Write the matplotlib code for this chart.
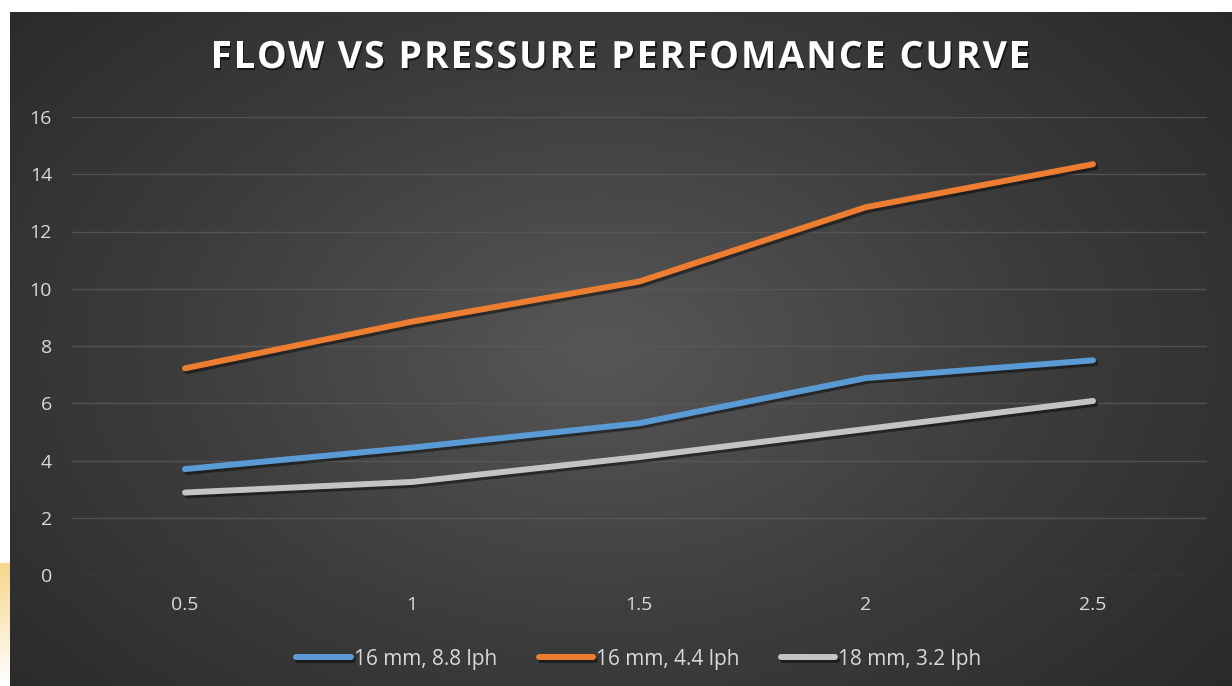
import numpy as np
import matplotlib
matplotlib.use('Agg')
from matplotlib import pyplot as plt
import matplotlib.patheffects as pe
from matplotlib.colors import LinearSegmentedColormap

# data
pressure = ['0.5', '1', '1.5', '2', '2.5']
flow_16_88 = [3.7, 4.45, 5.3, 6.88, 7.5]
flow_16_44 = [7.22, 8.85, 10.25, 12.85, 14.35]
flow_18_32 = [2.88, 3.25, 4.12, 5.1, 6.08]
series_names = ['16 mm, 8.8 lph', '16 mm, 4.4 lph', '18 mm, 3.2 lph']
colors = ['#5b9bd5', '#ed7d31', '#c4c4c4']
yticks = [0, 2, 4, 6, 8, 10, 12, 14, 16]
title = 'FLOW VS PRESSURE PERFOMANCE CURVE'

plt.rcParams['font.family'] = ['Open Sans', 'DejaVu Sans']

W, H = 1232, 686
fig = plt.figure(figsize=(W/100, H/100), dpi=100)
fig.patch.set_facecolor('white')

# dark radial background panel
bg = fig.add_axes([10/W, 0, 1 - 10/W, 1 - 12/H])
bg.set_axis_off()
yy, xx = np.mgrid[0:300, 0:600]
cx, cy = 290, 150
r = np.sqrt(((xx - cx)/430.0)**2 + ((yy - cy)/260.0)**2)
r = np.clip(r, 0, 1)
cmap = LinearSegmentedColormap.from_list('bgc', ['#575757', '#3c3c3c', '#262626'])
bg.imshow(r, cmap=cmap, aspect='auto', extent=[0, 1, 0, 1], vmin=0, vmax=1)
bg.set_xlim(0, 1)
bg.set_ylim(0, 1)

# yellow glow on the left strip
glow = fig.add_axes([0, 0, 10/W, 0.18])
glow.set_axis_off()
g = np.linspace(1, 0, 50).reshape(-1, 1)
glow.imshow(g, cmap=LinearSegmentedColormap.from_list('gl', ['#ffffff', '#f7d68a']),
            aspect='auto', extent=[0, 1, 0, 1])

ax = fig.add_axes([71.5/W, 1 - 575/H, (1206.5 - 71.5)/W, (575 - 117)/H])
ax.patch.set_alpha(0)
x = np.arange(len(pressure))
shadow = [pe.SimpleLineShadow(offset=(1.5, -2), shadow_color='black', alpha=0.45), pe.Normal()]
for vals, name, c in zip([flow_16_88, flow_16_44, flow_18_32], series_names, colors):
    ax.plot(x, vals, color=c, lw=4.3, solid_capstyle='round', label=name,
            path_effects=shadow, zorder=3)

ax.set_xlim(-0.5, len(pressure) - 0.5)
ax.set_ylim(0, 16)
ax.set_yticks(yticks)
ax.set_xticks(x)
ax.set_xticklabels(pressure)
ax.grid(axis='y', color='#5a5a5a', lw=1, alpha=0.8)
ax.set_axisbelow(True)
for s in ax.spines.values():
    s.set_visible(False)
ax.tick_params(length=0, colors='#d9d9d9', labelsize=14)
ax.tick_params(axis='y', pad=14)
ax.tick_params(axis='x', pad=15)

# title with letter spacing, placed char by char
renderer = fig.canvas.get_renderer()
tkw = dict(fontsize=27, fontweight='bold')
def text_w(s):
    t = fig.text(0, 0, s + '|', **tkw)
    bar = fig.text(0, 0, '|', **tkw)
    w = t.get_window_extent(renderer).width - bar.get_window_extent(renderer).width
    t.remove()
    bar.remove()
    return w
x0, x1 = 211, 1030
base = text_w(title)
track = (x1 - x0 - base) / (len(title) - 1)
for i, ch in enumerate(title):
    if ch == ' ':
        continue
    px = x0 + text_w(title[:i]) + i * track
    fig.text(px / W, 1 - 58/H, ch, color='white', ha='left', va='center', **tkw,
             path_effects=[pe.withSimplePatchShadow(offset=(1, -1.5), shadow_rgbFace='black', alpha=0.6)])

leg = ax.legend(loc='center', bbox_to_anchor=(0.5, (575 - 659)/(575 - 117)), ncol=3,
                frameon=False, fontsize=15, handlelength=2.6, handletextpad=0.15,
                columnspacing=2.0, labelcolor='#d9d9d9')
for l in leg.get_lines():
    l.set_linewidth(4.3)
    l.set_solid_capstyle('round')

fig.savefig('out.png', dpi=100)
